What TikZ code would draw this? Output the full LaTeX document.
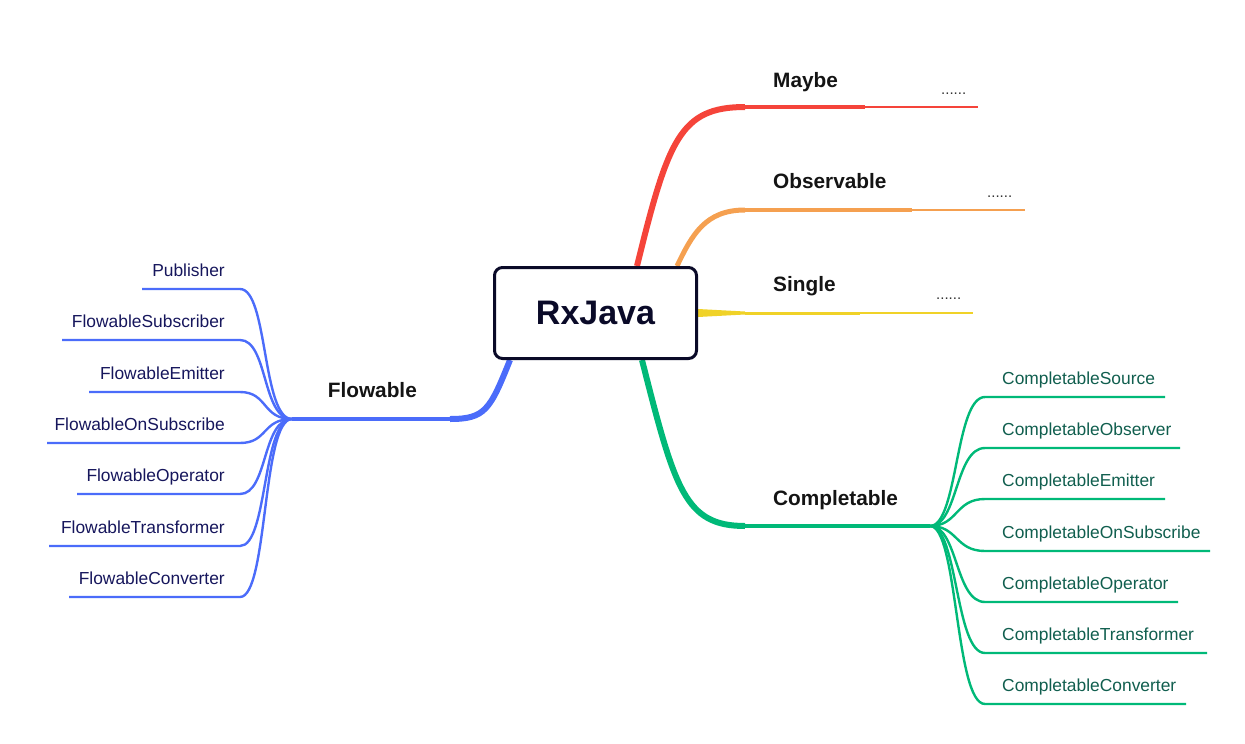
\documentclass[tikz,border=0pt]{standalone}
\usepackage{fontspec}
\setmainfont{Liberation Sans}
\usetikzlibrary{positioning,calc}

\definecolor{rxnavy}{RGB}{10,10,40}
\definecolor{rxred}{RGB}{245,68,58}
\definecolor{rxorange}{RGB}{245,160,80}
\definecolor{rxyellow}{RGB}{240,210,40}
\definecolor{rxgreen}{RGB}{0,185,120}
\definecolor{rxblue}{RGB}{75,108,250}
\definecolor{flowtext}{RGB}{22,22,92}
\definecolor{compltext}{RGB}{16,94,78}

\pgfdeclarelayer{bg}
\pgfsetlayers{bg,main}

\tikzset{
  rootbox/.style = {draw = rxnavy, line width = 3pt, rounded corners = 8pt, fill = white,
    minimum width = 202pt, minimum height = 91pt, text = rxnavy,
    font = \fontsize{34}{40}\selectfont\bfseries},
  topic/.style = {anchor = base west, inner sep = 0pt, text = black!92,
    font = \fontsize{20.8}{24}\selectfont\bfseries},
  more/.style = {anchor = base west, inner sep = 0pt, text = black!80,
    font = \fontsize{15}{18}\selectfont},
  fleaf/.style = {anchor = base east, inner sep = 0pt, text = flowtext,
    font = \fontsize{17.4}{20}\selectfont},
  cleaf/.style = {anchor = base west, inner sep = 0pt, text = compltext,
    font = \fontsize{17.4}{20}\selectfont},
  fwire/.style = {rxblue, line width = 2.4pt},
  cwire/.style = {rxgreen, line width = 2.4pt},
}

\begin{document}
\begin{tikzpicture}[x = 1pt, y = -1pt, line cap = butt]
\useasboundingbox (0,0) rectangle (1245,744);

% centre
\node[rootbox] (rx) at (595.5,313) {RxJava};

% topics
\node[topic] (maybe) at (773,87) {Maybe};
\node[topic] (obs) at (773,188) {Observable};
\node[topic] (single) at (773,291) {Single};
\node[topic] (compl) at (773,505) {Completable};
\node[topic, anchor = base east] (flow) at (417,397) {Flowable};
\node[more] (maybe-more) at (941,94) {......};
\node[more] (obs-more) at (987,197) {......};
\node[more] (single-more) at (936,299) {......};

% branch points
\coordinate (maybe-a) at (637,266);
\coordinate (maybe-b) at (745,107);
\coordinate (maybe-c) at (865,107);
\coordinate (maybe-d) at (978,107);
\coordinate (obs-a) at (677,266);
\coordinate (obs-b) at (745,210);
\coordinate (obs-c) at (912,210);
\coordinate (obs-d) at (1025,210);
\coordinate (single-b) at (745,313);
\coordinate (single-c) at (860,313);
\coordinate (single-d) at (973,313);
\coordinate (compl-a) at (642,360);
\coordinate (compl-b) at (745,526);
\coordinate (cfan) at (930,526);
\coordinate (flow-a) at (510,360);
\coordinate (flow-b) at (450,419);
\coordinate (ffan) at (292,419);

\begin{pgfonlayer}{bg}
% Maybe
\draw[rxred, line width = 6pt] (maybe-a) .. controls (668,140) and (680,107) .. (maybe-b);
\draw[rxred, line width = 4pt] (maybe-b) -- (maybe-c);
\draw[rxred, line width = 2.5pt] (maybe-c) -- (maybe-d);
% Observable
\draw[rxorange, line width = 5pt] (obs-a) .. controls (692,235) and (705,210) .. (obs-b);
\draw[rxorange, line width = 3.5pt] (obs-b) -- (obs-c);
\draw[rxorange, line width = 2.5pt] (obs-c) -- (obs-d);
% Single
\fill[rxyellow] (rx.east) ++(0,-4) -- ($(single-b)+(0,-1.5)$) -- ($(single-b)+(0,1.5)$) -- ($(rx.east)+(0,4)$) -- cycle;
\draw[rxyellow, line width = 3pt] (single-b) -- (single-c);
\draw[rxyellow, line width = 2.5pt] (single-c) -- (single-d);
% Completable
\draw[rxgreen, line width = 6pt] (compl-a) .. controls (675,490) and (685,526) .. (compl-b);
\draw[rxgreen, line width = 4.5pt] (compl-b) -- (cfan);
% Flowable
\draw[rxblue, line width = 6pt] (flow-a) .. controls (490,410) and (485,419) .. (flow-b);
\draw[rxblue, line width = 4pt] (flow-b) -- (ffan);
\end{pgfonlayer}

% Flowable leaves
\foreach \nm/\txt/\yy/\xl in {
    pub/Publisher/289/142,
    fsub/FlowableSubscriber/340/62,
    femit/FlowableEmitter/392/89,
    fon/FlowableOnSubscribe/443/47,
    fop/FlowableOperator/494/77,
    ftr/FlowableTransformer/546/49,
    fconv/FlowableConverter/597/69} {
  \node[fleaf] (\nm) at (225,\yy-13) {\txt};
  \coordinate (\nm-k) at (240,\yy);
  \coordinate (\nm-e) at (\xl,\yy);
  \draw[fwire] (ffan) .. controls (262,419) and (268,\yy) .. (\nm-k) -- (\nm-e);
}

% Completable leaves
\foreach \nm/\txt/\yy/\xr in {
    csrc/CompletableSource/397/1165,
    cobs/CompletableObserver/448/1180,
    cemit/CompletableEmitter/499/1165,
    con/CompletableOnSubscribe/551/1210,
    cop/CompletableOperator/602/1178,
    ctr/CompletableTransformer/653/1207,
    cconv/CompletableConverter/704/1186} {
  \node[cleaf] (\nm) at (1002,\yy-13) {\txt};
  \coordinate (\nm-k) at (985,\yy);
  \coordinate (\nm-e) at (\xr,\yy);
  \draw[cwire] (cfan) .. controls (958,526) and (955,\yy) .. (\nm-k) -- (\nm-e);
}
\end{tikzpicture}
\end{document}
